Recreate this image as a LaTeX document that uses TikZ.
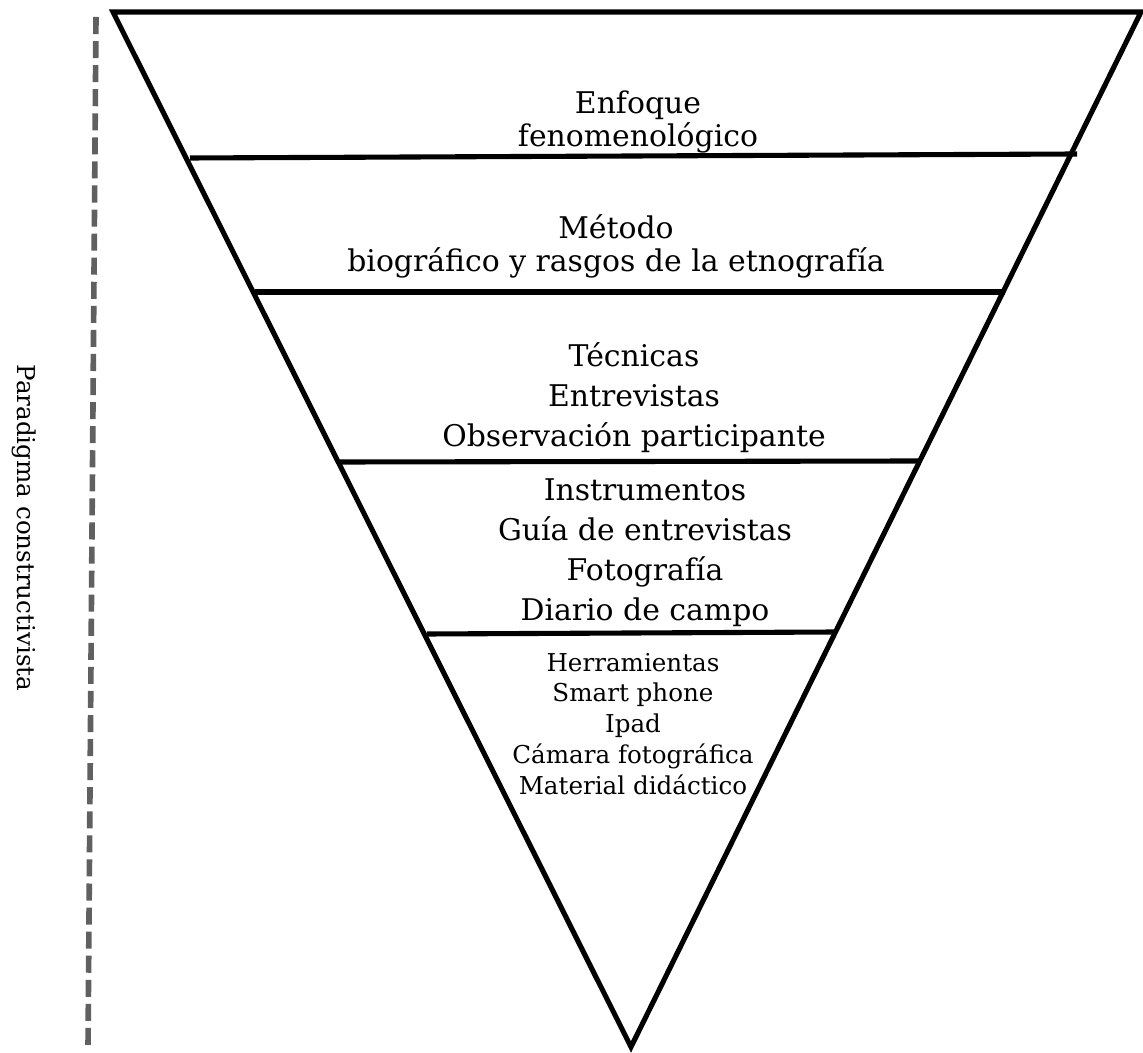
\documentclass[tikz,border=0pt]{standalone}
\usepackage{fontspec}
\setmainfont{DejaVu Serif}
\usepackage{xcolor}
\usepackage{tikz}
\usetikzlibrary{positioning}
\definecolor{linegray}{RGB}{96,96,96}

\begin{document}
\begin{tikzpicture}[x=0.02cm, y=-0.02cm,
    borde/.style={line width=2.9pt, line join=miter},
    nivel/.style={align=center, font=\fontsize{17}{22.8}\selectfont},
    nivelapretado/.style={align=center, font=\fontsize{17}{18.8}\selectfont},
    nivelchico/.style={align=center, font=\fontsize{14}{17.6}\selectfont}]
    % --- Marco ---
    \useasboundingbox (0,0) rectangle (1143,1053);

    % --- Linea discontinua (paradigma) ---
    \draw[linegray, line width=3.2pt, dash pattern=on 9.7pt off 4pt] (96,17) -- (88,1048);
    \node[rotate=-90, font=\fontsize{14}{16}\selectfont] (paradigma) at (24,528) {Paradigma constructivista};

    % --- Triangulo invertido ---
    \draw[borde] (113,12) -- (1141,12) -- (631,1047) -- cycle;

    % --- Divisiones ---
    \draw[borde] (190,158) -- (1077,154);
    \draw[borde] (255,292) -- (1005,292);
    \draw[borde] (340,462) -- (920,461);
    \draw[borde] (427,634) -- (836,632);

    % --- Textos de cada nivel ---
    \node[nivelapretado] (enfoque) at (638,122) {Enfoque\\fenomenológico};
    \node[nivelapretado] (metodo) at (616,246) {Método\\biográfico y rasgos de la etnografía};
    \node[nivel] (tecnicas) at (634,398) {Técnicas\\Entrevistas\\Observación participante};
    \node[nivel] (instrumentos) at (645,553) {Instrumentos\\Guía de entrevistas\\Fotografía\\Diario de campo};
    \node[nivelchico] (herramientas) at (633,724) {Herramientas\\Smart phone\\Ipad\\Cámara fotográfica\\Material didáctico};
\end{tikzpicture}
\end{document}
